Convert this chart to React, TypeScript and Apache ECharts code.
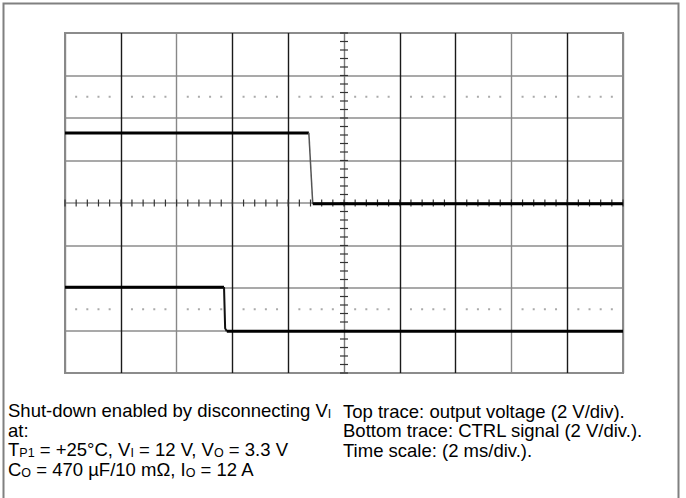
import React, { useEffect, useRef } from "react";
import * as echarts from "echarts";

// Oscilloscope screen: 10 horizontal divisions, 8 vertical divisions (value = divisions)
const X_MIN = 0;
const X_MAX = 10;
const Y_MIN = -4;
const Y_MAX = 4;
const X_CENTRE = 5;
const Y_CENTRE = 0;

// Top trace: output voltage (divisions from centre)
const topHigh: [number, number][] = [[0, 1.65], [4.37, 1.65]];
const topFall: [number, number][] = [[4.37, 1.65], [4.44, -0.02]];
const topLow: [number, number][] = [[4.44, -0.02], [10, -0.02]];

// Bottom trace: CTRL signal
const botHigh: [number, number][] = [[0, -1.98], [2.85, -1.98]];
const botFall: [number, number][] = [[2.85, -1.98], [2.87, -2.95], [2.9, -3.02]];
const botLow: [number, number][] = [[2.9, -3.02], [10, -3.02]];

// Text block
const leftLines = [
  "{n|Shut-down enabled by disconnecting V}{s|I}",
  "{n|at:}",
  "{n|T}{s|P1}{n| = +25°C, V}{s|I}{n| = 12 V, V}{s|O}{n| = 3.3 V}",
  "{n|C}{s|O}{n| = 470 µF/10 mΩ, I}{s|O}{n| = 12 A}",
];
const rightLines = [
  "Top trace: output voltage (2 V/div).",
  "Bottom trace: CTRL signal (2 V/div.).",
  "Time scale: (2 ms/div.).",
];

// graticule decorations (minor ticks on centre axes, dotted rows)
const minorStep = 0.2;
const centreTicks: number[][] = [];
for (let k = -20; k <= 20; k++) centreTicks.push([X_CENTRE, +(k * minorStep).toFixed(2), 1]);
for (let k = 0; k <= 50; k++) centreTicks.push([+(k * minorStep).toFixed(2), Y_CENTRE, 0]);
const dotRows = [2.5, -2.5];
const dots: number[][] = [];
for (const r of dotRows)
  for (let k = 0; k <= 50; k++) if (k % 5 !== 0) dots.push([+(k * minorStep).toFixed(2), r]);

const FONT = "'Liberation Sans', Arial, sans-serif";
const FS = 18.5;

export default function App() {
  const ref = useRef<HTMLDivElement>(null);
  useEffect(() => {
    if (!ref.current) return;
    const chart = echarts.init(ref.current, null, { renderer: "svg" });
    const thick = { color: "#000", width: 3 };
    const thin = { color: "#555", width: 1.5 };
    const lineSeries = (data: [number, number][], ls: any) => ({
      type: "line",
      data,
      showSymbol: false,
      lineStyle: ls,
      silent: true,
      z: 5,
    });
    const textEls: any[] = [];
    leftLines.forEach((t, i) =>
      textEls.push({
        type: "text",
        left: 8,
        top: 401 + i * 19.5,
        style: {
          text: t,
          rich: {
            n: { fontSize: FS, fontFamily: FONT, fill: "#000", lineHeight: 20 },
            s: { fontSize: 12.5, fontFamily: FONT, fill: "#000", lineHeight: 20, verticalAlign: "bottom", padding: [5, 0, 0, 0] },
          },
        },
      })
    );
    rightLines.forEach((t, i) =>
      textEls.push({
        type: "text",
        left: 343,
        top: 401 + i * 19.5,
        style: { text: t, fontSize: FS, fontFamily: FONT, fill: "#000", lineHeight: 20 },
      })
    );
    chart.setOption({
      animation: false,
      grid: {
        left: 65,
        right: 63,
        top: 33,
        bottom: 125,
        show: true,
        borderColor: "#8a8a8a",
        borderWidth: 2,
      },
      xAxis: {
        type: "value",
        min: X_MIN,
        max: X_MAX,
        interval: 1,
        axisLine: { show: false },
        axisTick: { show: false },
        axisLabel: { show: false },
        splitLine: {
          show: true,
          lineStyle: {
            color: ["#888", "#1a1a1a", "#888", "#1a1a1a", "#1a1a1a", "#7a7a7a", "#1a1a1a", "#1a1a1a", "#888", "#1a1a1a", "#888"],
            width: 1.4,
          },
        },
      },
      yAxis: {
        type: "value",
        min: Y_MIN,
        max: Y_MAX,
        interval: 1,
        axisLine: { show: false },
        axisTick: { show: false },
        axisLabel: { show: false },
        splitLine: { show: true, lineStyle: { color: "#8c8c8c", width: 1.6 } },
      },
      series: [
        {
          type: "custom",
          data: centreTicks,
          silent: true,
          z: 3,
          renderItem: (params: any, api: any) => {
            const p = api.coord([api.value(0), api.value(1)]);
            const vert = api.value(2) === 1;
            return {
              type: "line",
              shape: vert
                ? { x1: p[0] - 4, y1: p[1], x2: p[0] + 4, y2: p[1] }
                : { x1: p[0], y1: p[1] - 3.5, x2: p[0], y2: p[1] + 3.5 },
              style: { stroke: "#333", lineWidth: 1.2 },
            };
          },
        },
        {
          type: "custom",
          data: dots,
          silent: true,
          z: 3,
          renderItem: (params: any, api: any) => {
            const p = api.coord([api.value(0), api.value(1)]);
            return {
              type: "rect",
              shape: { x: p[0] - 1, y: p[1] - 1, width: 2, height: 2 },
              style: { fill: "#aaa" },
            };
          },
        },
        lineSeries(topHigh, thick),
        lineSeries(topFall, thin),
        lineSeries(topLow, thick),
        lineSeries(botHigh, thick),
        lineSeries(botFall, { color: "#111", width: 2 }),
        lineSeries(botLow, thick),
      ],
      graphic: [
        {
          type: "rect",
          shape: { x: 3.5, y: 3.5, width: 675, height: 600 },
          style: { fill: "none", stroke: "#808080", lineWidth: 2 },
          silent: true,
        },
        ...textEls,
      ],
    });
    return () => chart.dispose();
  }, []);
  return (
    <div
      ref={ref}
      style={{ position: "fixed", left: 0, top: 0, width: 686, height: 498, background: "#fff" }}
    />
  );
}
